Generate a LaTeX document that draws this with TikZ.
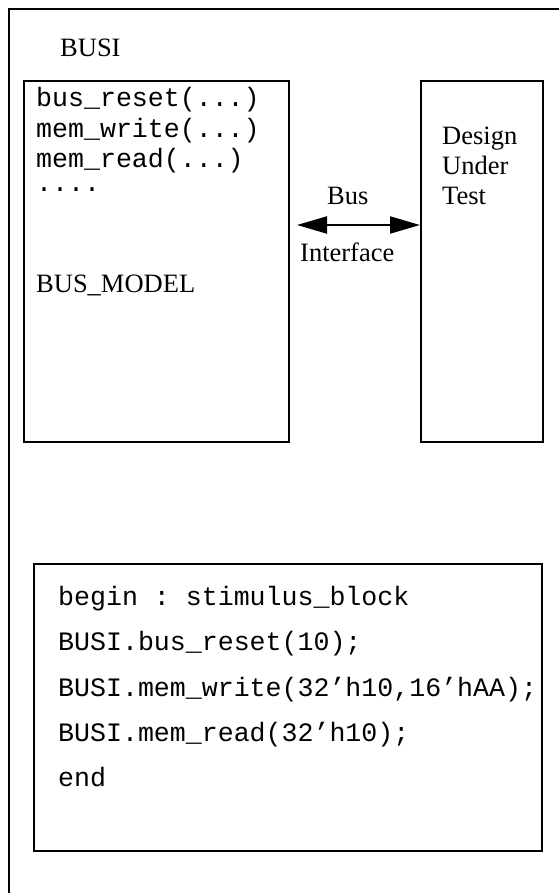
\documentclass[tikz,border=0pt]{standalone}
\usepackage{fontspec}
\setmainfont{Liberation Serif}
\setmonofont{Liberation Mono}
\usetikzlibrary{arrows.meta}
\tikzset{
  frame/.style={line width=2pt},
  box/.style={draw, line width=2pt},
  serif/.style={inner sep=0pt, anchor=base west, font=\fontsize{26.5}{30}\selectfont},
  code/.style={inner sep=0pt, anchor=base west, font=\fontsize{26.6}{30}\ttfamily},
  busarrow/.style={line width=2pt, {Triangle[length=30pt,width=17pt]}-{Triangle[length=30pt,width=17pt]}}
}
\begin{document}
\begin{tikzpicture}[x=1pt,y=-1pt]
\useasboundingbox (0,0) rectangle (559,893);
% outer BUSI module frame (open to the right and bottom)
\coordinate (ftop) at (559,9);
\coordinate (fcorner) at (9,9);
\coordinate (fbot) at (9,893);
\draw[frame] (ftop) -- (fcorner) -- (fbot);
\node[serif] (busi) at (60,57) {BUSI};

% bus functional model
\node[box, minimum width=265pt, minimum height=361pt, anchor=north west, inner sep=0pt] (model) at (23,80) {};
\node[code] (l1) at (36,107) {bus\_reset(...)};
\node[code] (l2) at (36,138) {mem\_write(...)};
\node[code] (l3) at (36,168) {mem\_read(...)};
\node[code] (l4) at (36,192) {....};
\node[serif] (bm) at (36,292) {BUS\_MODEL};

% design under test
\node[box, minimum width=122pt, minimum height=361pt, anchor=north west, inner sep=0pt] (dut) at (420,80) {};
\node[serif] (d1) at (442,145) {Design};
\node[serif] (d2) at (442,175) {Under};
\node[serif] (d3) at (442,205) {Test};

% bus interface
\coordinate (ia) at (297,225);
\coordinate (ib) at (dut.west |- ia);
\draw[busarrow] (ia) -- (ib);
\node[serif] (bus) at (327,205) {Bus};
\node[serif] (intf) at (300,261) {Interface};

% stimulus block
\node[box, minimum width=508pt, minimum height=287pt, anchor=north west, inner sep=0pt] (stim) at (33,563) {};
\node[code] (s1) at (58,605) {begin : stimulus\_block};
\node[code] (s2) at (58,650) {BUSI.bus\_reset(10);};
\node[code] (s3) at (58,696) {BUSI.mem\_write(32’h10,16’hAA);};
\node[code] (s4) at (58,741) {BUSI.mem\_read(32’h10);};
\node[code] (s5) at (58,786) {end};
\end{tikzpicture}
\end{document}
